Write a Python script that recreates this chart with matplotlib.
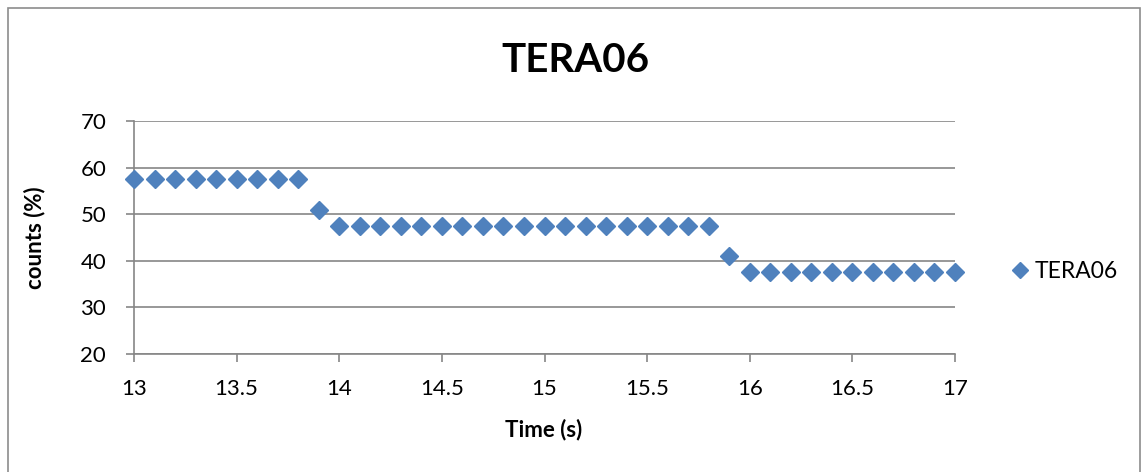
import matplotlib.pyplot as plt
from matplotlib.patches import Rectangle

plt.rcParams['font.family'] = ['Lato', 'DejaVu Sans']

# time samples (s) and counts (%)
time_s = [13.0, 13.1, 13.2, 13.3, 13.4, 13.5, 13.6, 13.7, 13.8, 13.9,
          14.0, 14.1, 14.2, 14.3, 14.4, 14.5, 14.6, 14.7, 14.8, 14.9,
          15.0, 15.1, 15.2, 15.3, 15.4, 15.5, 15.6, 15.7, 15.8, 15.9,
          16.0, 16.1, 16.2, 16.3, 16.4, 16.5, 16.6, 16.7, 16.8, 16.9, 17.0]
counts = [57.5] * 9 + [51.0] + [47.5] * 19 + [41.0] + [37.5] * 11

x_ticks = [13, 13.5, 14, 14.5, 15, 15.5, 16, 16.5, 17]
x_tick_labels = ['13', '13.5', '14', '14.5', '15', '15.5', '16', '16.5', '17']
y_ticks = [20, 30, 40, 50, 60, 70]

blue = '#4F81BD'
grey = '#868686'

fig = plt.figure(figsize=(11.44, 4.72), dpi=100)
fig.patches.append(Rectangle((8 / 1144, -0.01), 1132 / 1144, 1 - 8 / 472 + 0.01,
                             transform=fig.transFigure, fill=False,
                             edgecolor='#8c8c8c', linewidth=1.2))

ax = fig.add_axes([134 / 1144, 1 - 354 / 472, (955 - 134) / 1144, (354 - 121) / 472])
ax.plot(time_s, counts, linestyle='none', marker='D', markersize=9.6,
        color=blue, markeredgecolor=blue, label='TERA06', clip_on=False, zorder=3)

ax.set_xlim(13, 17)
ax.set_ylim(20, 70)
ax.set_xticks(x_ticks)
ax.set_xticklabels(x_tick_labels)
ax.set_yticks(y_ticks)
ax.yaxis.grid(True, color=grey, linewidth=1.2)
ax.set_axisbelow(True)

for side in ['top', 'right']:
    ax.spines[side].set_visible(False)
for side in ['left', 'bottom']:
    ax.spines[side].set_color(grey)
    ax.spines[side].set_linewidth(1.2)
ax.tick_params(axis='both', direction='out', length=6, width=1.2, color=grey,
               labelsize=16)
ax.tick_params(axis='x', pad=12)
ax.tick_params(axis='y', pad=14)

ax.set_xlabel('Time (s)', fontsize=16, fontweight='bold')
ax.set_ylabel('counts (%)', fontsize=16, fontweight='bold')
ax.xaxis.set_label_coords(544 / 1144, 1 - 430 / 472, transform=fig.transFigure)
ax.yaxis.set_label_coords(35 / 1144, 1 - 238 / 472, transform=fig.transFigure)
ax.xaxis.label.set_va('center')
ax.yaxis.label.set_va('center')
fig.text(575 / 1144, 1 - 60 / 472, 'TERA06', fontsize=29, fontweight='bold',
         ha='center', va='center')

ax.legend(loc='center left', bbox_to_anchor=(1.037, 0.355), frameon=False,
          fontsize=16.5, handletextpad=0.05, handlelength=1.2, markerscale=0.9)

fig.savefig('out.png', dpi=100)
